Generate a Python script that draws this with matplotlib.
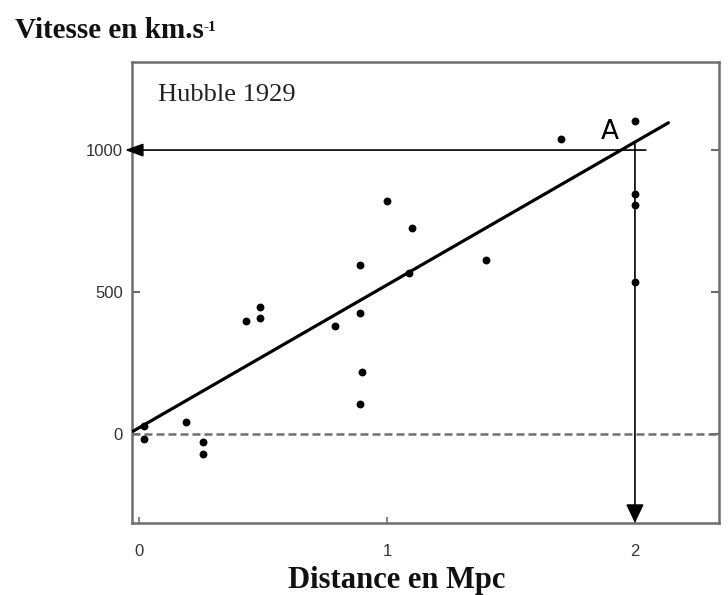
import matplotlib
matplotlib.use("Agg")
import matplotlib.pyplot as plt

# ---- data ----
distance_mpc = [0.02, 0.02, 0.19, 0.26, 0.26, 0.43, 0.49, 0.49,
                0.79, 0.89, 0.89, 0.90, 0.89, 1.00, 1.10, 1.09,
                1.40, 1.70, 2.00, 2.00, 2.00, 2.00]
velocity_kms = [28, -18, 43, -27, -70, 399, 446, 410,
                381, 595, 427, 219, 105, 822, 724, 566,
                613, 1038, 1103, 845, 806, 536]
fit_x = [-0.024, 2.135]
fit_v = [10, 1096]
point_A = (2.0, 1000)
x_ticks = [0, 1, 2]
x_tick_labels = ["0", "1", "2"]
y_ticks = [0, 500, 1000]
y_tick_labels = ["0", "500", "1000"]

W, H = 728, 595
fig = plt.figure(figsize=(W / 100, H / 100), dpi=100)
ax = fig.add_axes([132 / W, 1 - 523 / H, (719 - 132) / W, (523 - 62) / H])

xmin, xmax = -0.028, 2.339
ymin, ymax = -313, 1310
ax.set_xlim(xmin, xmax)
ax.set_ylim(ymin, ymax)

spine_col = "#6e6e6e"
for s in ax.spines.values():
    s.set_color(spine_col)
    s.set_linewidth(1.8)

# zero dashed line
ax.axhline(0, color="#707070", lw=1.8, dashes=(3.2, 1.6), zorder=1)

# fit line
ax.plot(fit_x, fit_v, color="black", lw=2.3, solid_capstyle="round", zorder=3)

# data points
ax.scatter(distance_mpc, velocity_kms, s=32, color="black", zorder=4, linewidths=0)

# arrows from point A
ax.annotate("", xy=(-0.056, point_A[1]), xytext=(2.044, point_A[1]),
            arrowprops=dict(arrowstyle="-|>,head_length=1.1,head_width=0.4",
                            color="black", lw=1.2, shrinkA=0, shrinkB=0),
            annotation_clip=False, zorder=5)
ax.annotate("", xy=(point_A[0], ymin), xytext=(point_A[0], 1025),
            arrowprops=dict(arrowstyle="-|>,head_length=1.15,head_width=0.55",
                            color="black", lw=1.2, shrinkA=0, shrinkB=0),
            annotation_clip=False, zorder=5)
ax.text(1.899, 1063, "A", fontsize=19, family="DejaVu Sans",
        ha="center", va="center", color="black", zorder=6)

ax.text(0.077, 1194, "Hubble 1929", fontsize=19, family="Liberation Serif",
        ha="left", va="center", color="#222222")

# ticks
ax.set_xticks(x_ticks)
ax.set_xticklabels(x_tick_labels)
ax.set_yticks(y_ticks)
ax.set_yticklabels(y_tick_labels)
ax.tick_params(axis="x", direction="in", length=4, width=1.2, color=spine_col,
               pad=15, labelsize=12, labelcolor="#333333")
ax.tick_params(axis="y", direction="in", length=6, width=1.5, color=spine_col,
               pad=6.5, labelsize=12, labelcolor="#333333", right=True)
for lab in ax.get_xticklabels() + ax.get_yticklabels():
    lab.set_family("Liberation Sans")

# titles
title = fig.text(15 / W, 1 - 38 / H, "Vitesse en km.s", fontsize=21,
                 family="Liberation Serif", weight="bold", ha="left",
                 va="baseline", color="#111111")
fig.canvas.draw()
bb = title.get_window_extent()
fig.text(bb.x1 / W, 1 - 31 / H, "-1", fontsize=11,
         family="Liberation Serif", weight="bold", ha="left",
         va="baseline", color="#111111")

fig.text(397 / W, 1 - 588 / H, "Distance en Mpc", fontsize=22,
         family="Liberation Serif", weight="bold", ha="center",
         va="baseline", color="#111111")

fig.savefig("out.png", dpi=100)
